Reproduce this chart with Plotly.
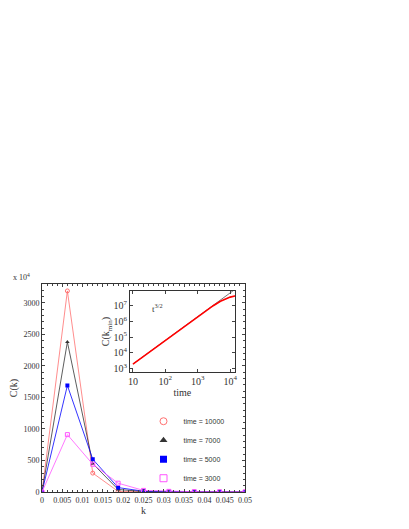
import plotly.graph_objects as go

k = [0, 0.00625, 0.0125, 0.01875, 0.025, 0.03125, 0.0375, 0.04375, 0.05]
c_10000 = [0, 3190, 300, 10, 5, 3, 2, 1, 1]
c_7000 = [0, 2380, 450, 40, 8, 4, 2, 1, 1]
c_5000 = [0, 1690, 520, 70, 12, 5, 3, 2, 1]
c_3000 = [0, 910, 440, 140, 25, 10, 5, 3, 2]

k_ticks = [0, 0.005, 0.01, 0.015, 0.02, 0.025, 0.03, 0.035, 0.04, 0.045, 0.05]
k_labels = ["0", "0.005", "0.01", "0.015", "0.02", "0.025", "0.03", "0.035", "0.04", "0.045", "0.05"]

t_inset = [10, 20, 30, 50, 100, 200, 500, 1000, 2000, 3000, 5000, 7000, 10000, 15000]
c_kmin = [2.0e3, 5.6e3, 1.0e4, 2.2e4, 6.3e4, 1.8e5, 7.1e5, 2.0e6, 5.6e6,
          9.5e6, 1.8e7, 2.5e7, 3.3e7, 4.0e7]
t_guide = [10, 15000]
c_guide = [2.0e3, 1.12e8]

serif = "Liberation Serif"
fig = go.Figure()

series = [
    ("time = 10000", c_10000, "#ff7070", "circle-open"),
    ("time = 7000", c_7000, "#333333", "triangle-up"),
    ("time = 5000", c_5000, "#0000ff", "square"),
    ("time = 3000", c_3000, "#ff55ff", "square-open"),
]
for name, vals, col, sym in series:
    fig.add_trace(go.Scatter(
        x=k, y=vals, mode="lines+markers", showlegend=False,
        line=dict(color=col, width=0.8), marker=dict(color=col, symbol=sym, size=4),
    ))
for name, vals, col, sym in series:
    fig.add_trace(go.Scatter(
        x=[None], y=[None], mode="markers", name=name,
        marker=dict(color=col, symbol=sym, size=7),
    ))

fig.add_trace(go.Scatter(x=t_guide, y=c_guide, mode="lines", showlegend=False,
                         line=dict(color="#555555", width=0.8), xaxis="x2", yaxis="y2"))
fig.add_trace(go.Scatter(x=t_inset, y=c_kmin, mode="lines", showlegend=False,
                         line=dict(color="red", width=1.6), xaxis="x2", yaxis="y2"))

axis_common = dict(showline=True, linecolor="#333", linewidth=1, mirror="ticks",
                   ticks="inside", ticklen=3, showgrid=False, zeroline=False,
                   automargin=False,
                   tickfont=dict(family=serif, size=8, color="#333"))

fig.update_layout(
    width=409, height=529, plot_bgcolor="white", paper_bgcolor="white",
    margin=dict(l=34, r=172, t=276, b=45),
    font=dict(family=serif, color="#333"),
    xaxis=dict(range=[0, 0.05], tickvals=k_ticks, ticktext=k_labels, tickangle=0,
               minor=dict(ticks="inside", ticklen=2, dtick=0.00125),
               title=dict(text="k", font=dict(size=10), standoff=2), **axis_common),
    yaxis=dict(range=[0, 3300], dtick=500,
               minor=dict(ticks="inside", ticklen=2, dtick=100),
               title=dict(text="C(k)", font=dict(size=10), standoff=4), **axis_common),
    xaxis2=dict(type="log", domain=[0.432, 0.951], anchor="y2", range=[0.9, 4.15],
                dtick=1, exponentformat="power",
                title=dict(text="time", font=dict(size=10), standoff=0), **axis_common),
    yaxis2=dict(type="log", domain=[0.577, 0.966], anchor="x2", range=[2.8, 7.9],
                dtick=1, exponentformat="power",
                title=dict(text="C(k<sub>min</sub>)", font=dict(size=10), standoff=0),
                **axis_common),
    legend=dict(x=0.5, y=0.41, xanchor="left", yanchor="top", bgcolor="rgba(0,0,0,0)",
                font=dict(family="Liberation Sans", size=7, color="#333"),
                itemwidth=30),
    annotations=[
        dict(text="x 10<sup>4</sup>", xref="paper", yref="paper", x=-0.05, y=1.0,
             xanchor="right", yanchor="bottom", showarrow=False, font=dict(size=8)),
        dict(text="t<sup>3/2</sup>", xref="x2", yref="y2", x=1.75, y=6.85,
             showarrow=False, font=dict(size=9)),
    ],
)

fig.write_html("out.html")
